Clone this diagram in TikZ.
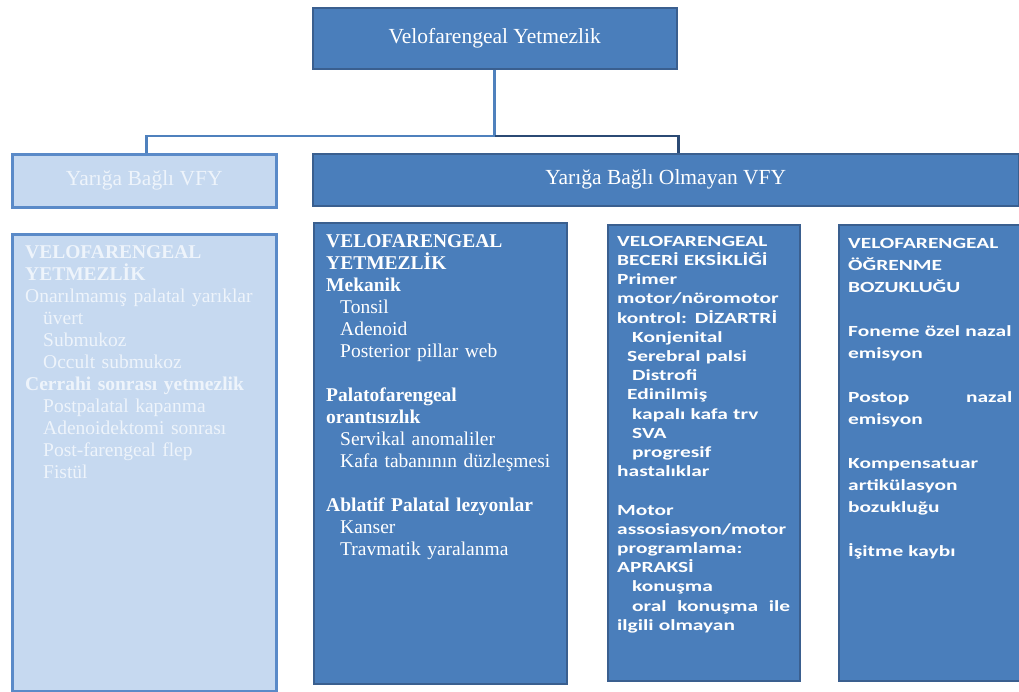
\documentclass[tikz,border=0pt]{standalone}
\usepackage{fontspec}
\setmainfont{Liberation Serif}
\newfontfamily\sansbox[FakeStretch=1.38]{Carlito}
\usetikzlibrary{shadows}
\definecolor{boxfill}{HTML}{4A7EBB}
\definecolor{boxedge}{HTML}{3A5F8F}
\definecolor{lightfill}{HTML}{C6D9F0}
\definecolor{lightedge}{HTML}{5A8AC8}
\definecolor{lighttext}{HTML}{EEF4FB}
\definecolor{connlight}{HTML}{4F81BD}
\definecolor{conndark}{HTML}{2B4A74}
\begin{document}
\begin{tikzpicture}[x=1pt,y=-1pt,
  darkbox/.style={draw=boxedge, line width=1.5pt, fill=boxfill, anchor=north west, inner sep=0pt,
    drop shadow={opacity=0.25, shadow xshift=1.5pt, shadow yshift=-1.5pt}},
  lightbox/.style={draw=lightedge, line width=2.5pt, fill=lightfill, anchor=north west, inner sep=0pt},
  headtext/.style={font=\fontsize{21.5}{24}\selectfont},
  serifbody/.style={anchor=north west, inner sep=0pt, align=left, text width=#1,
    font=\fontsize{19.5}{22}\selectfont},
  sansbody/.style={anchor=north west, inner sep=0pt, align=left, text width=#1,
    text=white, font=\sansbox\bfseries\fontsize{15.5}{19.2}\selectfont},
  sansbodywide/.style={anchor=north west, inner sep=0pt, align=left, text width=#1,
    text=white, font=\sansbox\bfseries\fontsize{15.5}{22}\selectfont},
  connL/.style={draw=connlight, line width=2.8pt},
  connR/.style={draw=conndark, line width=2.8pt}]
\useasboundingbox (0,0) rectangle (1019,691);
\clip (0,0) rectangle (1019,691);

% top
\node[darkbox, minimum width=364pt, minimum height=61pt, text=white, headtext] (top) at (312,7) {Velofarengeal Yetmezlik};

% second level headers
\node[lightbox, minimum width=264pt, minimum height=53pt, text=lighttext, headtext] (lh) at (11,153) {Yarığa Bağlı VFY};
\node[darkbox, minimum width=706pt, minimum height=52pt, text=white, headtext] (wh) at (312,153) {Yarığa Bağlı Olmayan VFY};

% connectors
\coordinate (j) at (494,136);
\draw[connL] (top.south) -- (top.south |- j) -| ([xshift=2pt]lh.north);
\draw[connR] (top.south |- j) -| ([xshift=13pt]wh.north);

% body boxes
\node[lightbox, minimum width=264pt, minimum height=457pt] (lb) at (11,233) {};
\node[darkbox, minimum width=253pt, minimum height=461pt] (mb) at (313,222) {};
\node[darkbox, minimum width=192pt, minimum height=456pt] (tb) at (607,224) {};
\node[darkbox, minimum width=200pt, minimum height=456pt] (fb) at (838,224) {};

% left body text
\node[serifbody=245pt, text=lighttext] (lbt) at ([xshift=14pt,yshift=-12.5pt]lb.north west) {%
\textbf{VELOFARENGEAL}\\
\textbf{YETMEZLİK}\\
Onarılmamış palatal yarıklar\\
\hspace*{18pt}üvert\\
\hspace*{18pt}Submukoz\\
\hspace*{18pt}Occult submukoz\\
\textbf{Cerrahi sonrası yetmezlik}\\
\hspace*{18pt}Postpalatal kapanma\\
\hspace*{18pt}Adenoidektomi sonrası\\
\hspace*{18pt}Post-farengeal flep\\
\hspace*{18pt}Fistül};

% middle body text
\node[serifbody=238pt, text=white] (mbt) at ([xshift=13pt,yshift=-12.5pt]mb.north west) {%
\textbf{VELOFARENGEAL}\\
\textbf{YETMEZLİK}\\
\textbf{Mekanik}\\
\hspace*{14pt}Tonsil\\
\hspace*{14pt}Adenoid\\
\hspace*{14pt}Posterior pillar web\\[22pt]
\textbf{Palatofarengeal}\\
\textbf{orantısızlık}\\
\hspace*{14pt}Servikal anomaliler\\
\hspace*{14pt}Kafa tabanının düzleşmesi\\[22pt]
\textbf{Ablatif Palatal lezyonlar}\\
\hspace*{14pt}Kanser\\
\hspace*{14pt}Travmatik yaralanma};

% third body text
\node[sansbody=190pt] (tbt) at ([xshift=10pt,yshift=-12pt]tb.north west) {%
VELOFARENGEAL\\
BECERİ EKSİKLİĞİ\\
Primer\\
motor/nöromotor\\
kontrol: DİZARTRİ\\
\hspace*{15pt}Konjenital\\
\hspace*{10pt}Serebral palsi\\
\hspace*{15pt}Distrofi\\
\hspace*{10pt}Edinilmiş\\
\hspace*{15pt}kapalı kafa trv\\
\hspace*{15pt}SVA\\
\hspace*{15pt}progresif\\
hastalıklar\\[19.2pt]
Motor\\
assosiasyon/motor\\
programlama:\\
APRAKSİ\\
\hspace*{15pt}konuşma\\
\hspace*{15pt}\makebox[158pt][l]{oral\hfill konuşma\hfill ile}\\
ilgili olmayan};

% fourth body text
\node[sansbodywide=175pt] (fbt) at ([xshift=10pt,yshift=-14pt]fb.north west) {%
VELOFARENGEAL\\
ÖĞRENME\\
BOZUKLUĞU\\[22pt]
Foneme özel nazal\\
emisyon\\[22pt]
\makebox[164pt][l]{Postop\hfill nazal}\\
emisyon\\[22pt]
Kompensatuar\\
artikülasyon\\
bozukluğu\\[22pt]
İşitme kaybı};
\end{tikzpicture}
\end{document}
